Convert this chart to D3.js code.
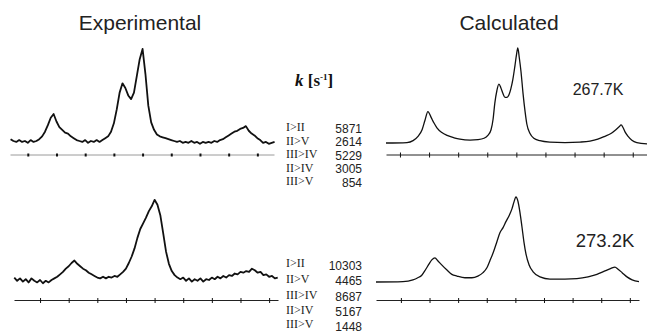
<!DOCTYPE html>
<html><head><meta charset="utf-8">
<script src="https://cdn.jsdelivr.net/npm/d3@7"></script>
<style>body{margin:0;background:#fff} svg{display:block}</style>
</head><body><svg id="c" width="647" height="334"></svg>
<script>
// ---- data ----
const tickShifts = [1, 2, 3, 4, 5, 6, 7, 8, 9];
const panelTitles = ["Experimental", "Calculated"];
const temps = ["267.7K", "273.2K"];
const rateLabels = ["I>II", "II>V", "III>IV", "II>IV", "III>V"];
const ratesTop = [5871, 2614, 5229, 3005, 854];
const ratesBot = [10303, 4465, 8687, 5167, 1448];

// experimental spectra: sampled every 0.1 shift units
const expTopStart = 0.4, expBotStart = 0.1, expStep = 0.1;
const expTopInt = [2,0,-1,1,-1,0,-2,1,-1,0,2,5,10,17,25,29,21,15,12,9,8,5,3,1,0,-1,1,-2,0,-1,1,-1,1,3,5,10,19,34,52,62,57,49,45,52,70,88,99,72,38,20,12,7,5,4,3,2,1,0,-1,0,-2,-1,-2,0,-2,-1,-3,-1,-2,-1,-2,0,-1,1,2,4,6,8,10,11,13,14,16,11,8,6,3,1,-2,-1,-3,-2,-1];
const expBotInt = [3,-1,2,-2,1,-3,2,-1,-3,0,-4,-1,-3,0,2,4,7,10,14,17,21,24,20,17,14,12,9,7,5,3,2,4,2,4,3,5,4,7,10,14,21,29,39,52,63,70,77,85,91,99,93,80,58,35,20,11,6,3,1,3,-1,2,-2,1,-1,2,-2,1,0,3,1,4,2,5,3,6,5,8,7,10,9,11,10,14,12,9,10,6,7,4,5,2,3];

// calculated spectra
const calcTopShift = [0.52,1.24,1.45,1.62,1.76,1.86,1.96,2.07,2.17,2.27,2.44,2.62,2.86,3.06,3.41,3.68,3.89,4.02,4.13,4.20,4.26,4.33,4.40,4.47,4.54,4.61,4.68,4.75,4.81,4.88,4.95,5.00,5.05,5.10,5.16,5.23,5.30,5.36,5.47,5.60,5.81,6.15,6.67,7.19,7.53,7.80,8.04,8.25,8.42,8.53,8.60,8.67,8.73,8.84,8.97,9.14,9.49];
const calcTopInt = [0,0.5,2.5,7,14,24,33,27,21,16,11,8,5.5,4,3,3.5,5,8,14,25,42,55,62,58,52,48,48,51,57,67,81,92,100,90,75,52,33,20,10,5,2.5,1,0.5,1,2,4,7,10,14,17,19,16,12,7,3,0.5,-1];
const calcBotShift = [0.13,1.07,1.42,1.59,1.73,1.87,1.98,2.08,2.19,2.29,2.40,2.61,2.78,2.96,3.24,3.48,3.69,3.87,4.01,4.11,4.22,4.36,4.46,4.57,4.67,4.78,4.88,4.95,5.02,5.09,5.16,5.23,5.30,5.37,5.48,5.62,5.86,6.21,6.73,7.15,7.54,7.85,8.13,8.34,8.48,8.59,8.73,8.90,9.08,9.32];
const calcBotInt = [0,0.5,2.5,5,8,15,21,26,28.5,25,21,14,9,7,5,5,7,11,17,25,34,48,58,64,71,78,86,94,100,95,82,65,47,33,20,12,6,3.5,3.5,4,6,9,13,16,17.5,15,11,6,2.5,0.5];

// ---- drawing ----
const svg = d3.select("#c");
const font = "'Liberation Sans', Arial, sans-serif";
const serif = "'Liberation Serif', 'Times New Roman', serif";

const panels = [
  {dom:[0.38,9.58], rng:[10,274], yr:[141,48], axisY:154.5, gray:true,
   pts: expTopInt.map((v,i)=>[expTopStart + i*expStep, v]), w:1.8},
  {dom:[0.09,9.31], rng:[14,278], yr:[280,199], axisY:300, gray:false,
   pts: expBotInt.map((v,i)=>[expBotStart + i*expStep, v]), w:1.8},
  {dom:[0.52,9.49], rng:[386,647], yr:[143,48], axisY:154.5, gray:false,
   pts: calcTopShift.map((s,i)=>[s, calcTopInt[i]]), w:1.3, smooth:true},
  {dom:[0.13,9.32], rng:[376,639], yr:[282,197], axisY:300, gray:false,
   pts: calcBotShift.map((s,i)=>[s, calcBotInt[i]]), w:1.3, smooth:true}
];

panels.forEach(p => {
  const x = d3.scaleLinear().domain(p.dom).range(p.rng);
  const y = d3.scaleLinear().domain([0,100]).range(p.yr);
  const ax = d3.axisBottom(x).tickValues(tickShifts).tickSizeInner(3).tickSizeOuter(0).tickFormat("");
  const g = svg.append("g").attr("transform", `translate(0,${p.axisY})`).call(ax);
  g.select(".domain").attr("stroke", p.gray ? "#9a9a9a" : "#222").attr("stroke-width", 1);
  g.selectAll(".tick line").attr("y1", p.gray ? -1 : -2).attr("y2", p.gray ? 2 : 3)
    .attr("stroke", "#111").attr("stroke-width", p.gray ? 2 : 1);
  const line = d3.line().x(d=>x(d[0])).y(d=>y(d[1]))
    .curve(p.smooth ? d3.curveMonotoneX : d3.curveLinear);
  svg.append("path").datum(p.pts).attr("d", line)
    .attr("fill","none").attr("stroke","#111").attr("stroke-width", p.w)
    .attr("stroke-linejoin","round");
});

// titles
svg.append("text").attr("x",140).attr("y",30).attr("text-anchor","middle")
  .attr("font-family",font).attr("font-size",21).attr("fill","#222").text(panelTitles[0]);
svg.append("text").attr("x",509).attr("y",30).attr("text-anchor","middle")
  .attr("font-family",font).attr("font-size",21).attr("fill","#222").text(panelTitles[1]);

// temperatures
svg.append("text").attr("x",598).attr("y",95).attr("text-anchor","middle")
  .attr("font-family",font).attr("font-size",16).attr("fill","#222").text(temps[0]);
svg.append("text").attr("x",605).attr("y",247).attr("text-anchor","middle")
  .attr("font-family",font).attr("font-size",18.5).attr("fill","#222").text(temps[1]);

// k [s-1]
const kt = svg.append("text").attr("x",295).attr("y",86).attr("font-family",serif)
  .attr("font-size",17).attr("font-weight","bold").attr("fill","#111");
kt.append("tspan").attr("font-style","italic").text("k");
kt.append("tspan").text(" [s");
kt.append("tspan").attr("font-size",9).attr("dy",-6).text("-1");
kt.append("tspan").attr("dy",6).text("]");

// rate tables
function table(rates, labelYs, numYs) {
  rateLabels.forEach((l,i) => {
    svg.append("text").attr("x",286).attr("y",labelYs[i]).attr("font-family",serif)
      .attr("font-size",12).attr("fill","#222").text(l);
    svg.append("text").attr("x",362).attr("y",numYs[i]).attr("text-anchor","end")
      .attr("font-family",font).attr("font-size",12).attr("fill","#222").text(rates[i]);
  });
}
table(ratesTop, [131,145,158,172,185], [133,146,160,173,187]);
table(ratesBot, [267,283,299,314,328], [270,285,301,316,331]);
</script></body></html>
